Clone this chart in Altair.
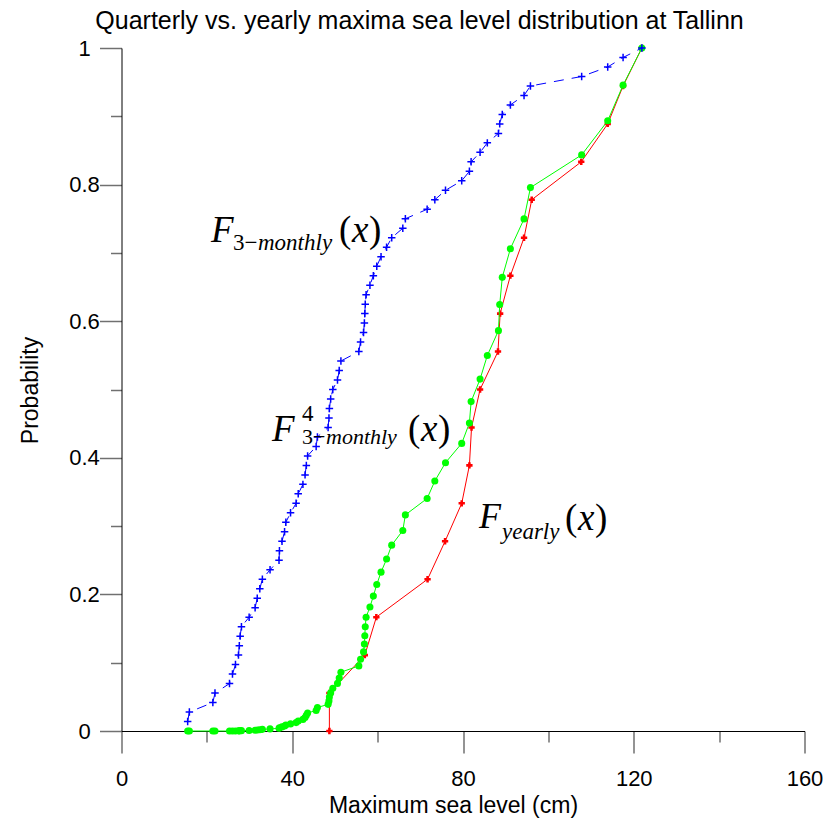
import altair as alt
import pandas as pd

TITLE = "Quarterly vs. yearly maxima sea level distribution at Tallinn"
X_TITLE = "Maximum sea level (cm)"
Y_TITLE = "Probability"

# quarterly (3-monthly) maxima, sorted, with empirical probabilities
quarterly_x = [15.5, 15.9, 21.4, 21.9, 25.3, 26.0, 26.7, 27.4, 27.6, 27.8, 28.1, 29.9,
               31.3, 31.8, 32.4, 33.0, 34.8, 36.9, 37.0, 37.6, 38.2, 38.5, 39.6, 40.9,
               41.4, 42.5, 43.0, 43.3, 43.6, 45.6, 45.9, 48.4, 48.6, 48.7, 49.0, 49.5,
               50.6, 51.0, 51.4, 55.6, 56.0, 56.7, 56.9, 57.0, 57.1, 57.3, 58.2, 59.0,
               59.8, 60.8, 62.1, 63.3, 65.9, 66.5, 71.6, 73.4, 75.9, 79.7, 81.5, 81.9,
               84.0, 85.7, 88.3, 88.6, 89.2, 91.1, 94.3, 95.8, 107.8, 113.9, 117.5, 121.9]
quarterly_p = [0.0139, 0.0278, 0.0417, 0.0556, 0.0694, 0.0833, 0.0972, 0.1111, 0.125, 0.1389,
               0.1528, 0.1667, 0.1806, 0.1944, 0.2083, 0.2222, 0.2361, 0.25, 0.2639, 0.2778,
               0.2917, 0.3056, 0.3194, 0.3333, 0.3472, 0.3611, 0.375, 0.3889, 0.4028, 0.4167,
               0.4306, 0.4444, 0.4583, 0.4722, 0.4861, 0.5, 0.5139, 0.5278, 0.5417, 0.5556,
               0.5694, 0.5833, 0.5972, 0.6111, 0.625, 0.6389, 0.6528, 0.6667, 0.6806, 0.6944,
               0.7083, 0.7222, 0.7361, 0.75, 0.7639, 0.7778, 0.7917, 0.8056, 0.8194, 0.8333,
               0.8472, 0.8611, 0.875, 0.8889, 0.9028, 0.9167, 0.9306, 0.9444, 0.9583, 0.9722,
               0.9861, 1.0]
# fourth power of the quarterly distribution
quarterly_p4 = [0.0, 0.0, 0.0, 0.0, 0.0, 0.0, 0.0001, 0.0002, 0.0002, 0.0004, 0.0005, 0.0008,
                0.0011, 0.0014, 0.0019, 0.0024, 0.0031, 0.0039, 0.0048, 0.006, 0.0072, 0.0087,
                0.0104, 0.0123, 0.0145, 0.017, 0.0198, 0.0229, 0.0263, 0.0301, 0.0344, 0.039,
                0.0441, 0.0497, 0.0558, 0.0625, 0.0697, 0.0776, 0.0861, 0.0953, 0.1051, 0.1158,
                0.1272, 0.1395, 0.1526, 0.1666, 0.1816, 0.1975, 0.2145, 0.2326, 0.2517, 0.2721,
                0.2936, 0.3164, 0.3405, 0.366, 0.3928, 0.4211, 0.4509, 0.4823, 0.5152, 0.5498,
                0.5862, 0.6243, 0.6642, 0.7061, 0.7498, 0.7956, 0.8435, 0.8934, 0.9456, 1.0]
# yearly maxima
yearly_x = [48.7, 48.7, 57.0, 59.7, 71.7, 75.8, 79.7, 81.5, 82.0, 84.0, 88.2, 88.7, 91.1,
            94.3, 96.1, 107.7, 113.9, 117.5, 121.9]
yearly_p = [0.0, 0.0556, 0.1111, 0.1667, 0.2222, 0.2778, 0.3333, 0.3889, 0.4444, 0.5,
            0.5556, 0.6111, 0.6667, 0.7222, 0.7778, 0.8333, 0.8889, 0.9444, 1.0]

x_ticks = [0, 20, 40, 60, 80, 100, 120, 140, 160]
y_ticks = [0, 0.1, 0.2, 0.3, 0.4, 0.5, 0.6, 0.7, 0.8, 0.9, 1.0]

PAD_L, PAD_T = 121.5, 48
W = H = 683

blue = pd.DataFrame({"x": quarterly_x, "p": quarterly_p, "i": list(range(len(quarterly_x)))})
green = pd.DataFrame({"x": quarterly_x, "p": quarterly_p4, "i": list(range(len(quarterly_x)))})
red = pd.DataFrame({"x": yearly_x, "p": yearly_p, "i": list(range(len(yearly_x)))})

common = dict(grid=False, domainColor="black", domainWidth=1, tickColor="#707070",
              tickWidth=1.5, labelFont="Liberation Sans", labelFontSize=22, labelColor="black",
              titleFont="Liberation Sans", titleFontSize=23, titleFontWeight="normal",
              titleColor="black", labelFlush=False, labelOverlap=False)

x_axis = alt.Axis(values=x_ticks, title=X_TITLE,
                  tickSize={"condition": {"test": "datum.value % 40 === 0", "value": 22}, "value": 11},
                  labelExpr="datum.value % 40 === 0 ? format(datum.value, 'd') : ''",
                  labelPadding=15, titleX=331.5, titleY=81, titleBaseline="alphabetic",
                  titleAlign="center", **common)
y_axis = alt.Axis(values=y_ticks, title=Y_TITLE,
                  tickSize={"condition": {"test": "round(datum.value*10) % 2 === 0", "value": 22}, "value": 11},
                  labelExpr="round(datum.value*10) % 2 === 0 ? format(datum.value, '~g') : ''",
                  labelAlign="center", labelBaseline="middle", labelPadding=15.5,
                  titleAngle=270, titleX=-84.5, titleY=342, titleBaseline="alphabetic",
                  titleAlign="center", **common)

xs = alt.Scale(domain=[0, 160], nice=False, zero=False)
ys = alt.Scale(domain=[0, 1], nice=False, zero=False)
X = alt.X("x:Q", scale=xs, axis=x_axis)
Y = alt.Y("p:Q", scale=ys, axis=y_axis)
O = alt.Order("i:Q")

red_line = alt.Chart(red).mark_line(color="#FF0000", strokeWidth=1).encode(x=X, y=Y, order=O)
red_pts = alt.Chart(red).mark_point(shape="cross", filled=True, size=40, color="#FF0000",
                                    opacity=1).encode(x=X, y=Y)
green_line = alt.Chart(green).mark_line(color="#00FF00", strokeWidth=1).encode(x=X, y=Y, order=O)
green_pts = alt.Chart(green).mark_circle(size=50, color="#00FF00", opacity=1).encode(x=X, y=Y)
blue_line = alt.Chart(blue).mark_line(color="#0000FF", strokeWidth=1,
                                      strokeDash=[10, 8]).encode(x=X, y=Y, order=O)
blue_pts = alt.Chart(blue).mark_point(shape="M-1,0H1M0,-1V1", filled=False, size=56,
                                      strokeWidth=1.5, color="#0000FF", opacity=1).encode(x=X, y=Y)


def piece(s, px, py, size, italic):
    return alt.Chart(pd.DataFrame({"t": [s]})).mark_text(
        align="left", baseline="alphabetic", font="Liberation Serif", fontSize=size,
        fontStyle="italic" if italic else "normal", color="black"
    ).encode(x=alt.value(px - PAD_L), y=alt.value(py - PAD_T), text="t:N")


labels = [
    # F_{3-monthly}(x)
    piece("F", 211, 242, 37, True),
    piece("3\u2212", 233, 250, 23, False),
    piece("monthly", 258, 250, 23, True),
    piece("(", 339, 242, 37, False),
    piece("x", 352, 242, 37, True),
    piece(")", 369, 242, 37, False),
    # F^4_{3-monthly}(x)
    piece("F", 272, 441, 37, True),
    piece("4", 302, 421, 23, False),
    piece("3\u2212", 302, 444, 22, False),
    piece("monthly", 326, 444, 22, True),
    piece("(", 408, 441, 37, False),
    piece("x", 421, 441, 37, True),
    piece(")", 438, 441, 37, False),
    # F_{yearly}(x)
    piece("F", 479, 528, 36, True),
    piece("yearly", 502, 539, 23, True),
    piece("(", 565, 530, 37, False),
    piece("x", 578, 530, 37, True),
    piece(")", 595, 530, 37, False),
]

chart = alt.layer(
    red_line, red_pts, green_line, green_pts, blue_line, blue_pts, *labels
).properties(
    width=W, height=H,
    title=alt.TitleParams(TITLE, font="Liberation Sans", fontSize=25, fontWeight="normal",
                          color="black", anchor="middle", dx=-43.5, dy=25, offset=8,
                          baseline="alphabetic"),
    autosize=alt.AutoSizeParams(type="none"),
    padding={"left": PAD_L, "top": PAD_T, "right": 831 - PAD_L - W, "bottom": 821 - PAD_T - H},
    background="white",
).configure_view(stroke=None)

chart.save("out.html", embed_options={"renderer": "svg", "actions": False})
